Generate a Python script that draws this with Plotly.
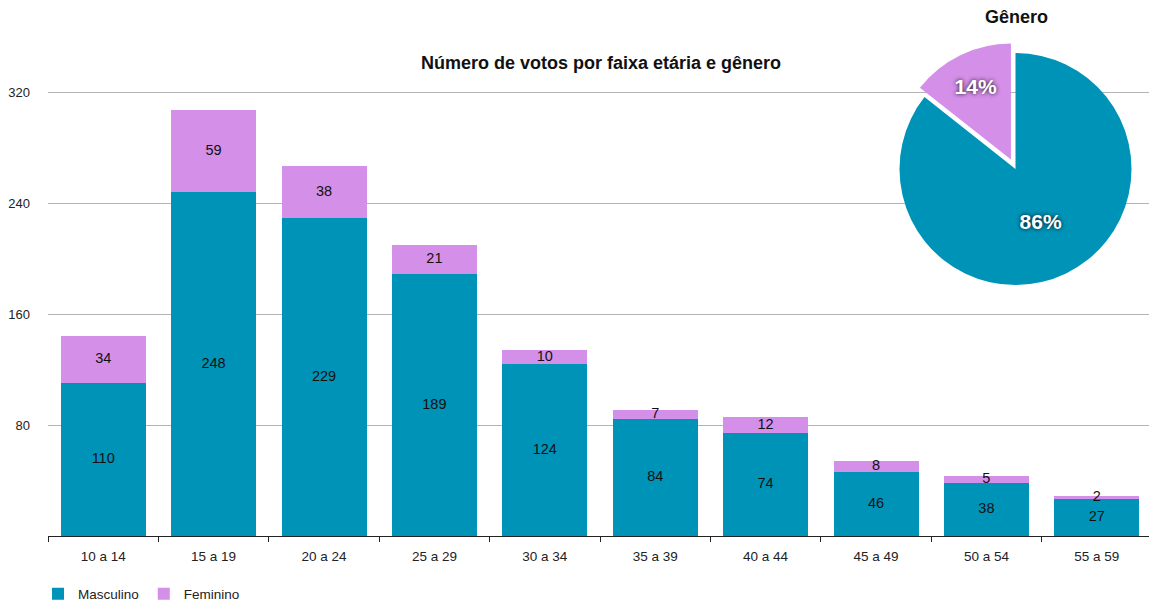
import plotly.graph_objects as go

categories = ["10 a 14", "15 a 19", "20 a 24", "25 a 29", "30 a 34",
              "35 a 39", "40 a 44", "45 a 49", "50 a 54", "55 a 59"]
masculino = [110, 248, 229, 189, 124, 84, 74, 46, 38, 27]
feminino = [34, 59, 38, 21, 10, 7, 12, 8, 5, 2]
y_ticks = [80, 160, 240, 320]

TEAL = "#0093b8"
LILAC = "#d48fe8"
FONT = "Liberation Sans, Arial, Helvetica, sans-serif"

# page body adds an 8px offset; layout is specified in screen pixels
OFF = 8
W, H = 1157, 606
ML, MR, MT, MB = 48 - OFF, 13, 0, 78
PW = W - ML - MR
PH = H - MT - MB
BAR_TOP_PX = 64  # screen y of top of bar plot area


def px_x(p):
    return (p - OFF - ML) / PW


def px_y(p):
    return (H - MB - (p - OFF)) / PH


fig = go.Figure()
fig.add_trace(go.Bar(x=categories, y=masculino, name="Masculino",
                     marker=dict(color=TEAL, line=dict(width=0)),
                     hoverinfo="skip"))
fig.add_trace(go.Bar(x=categories, y=feminino, name="Feminino",
                     marker=dict(color=LILAC, line=dict(width=0)),
                     hoverinfo="skip"))

# segment labels centred in each segment
fig.add_trace(go.Scatter(x=categories, y=[m / 2 for m in masculino],
                         mode="text", text=[str(v) for v in masculino],
                         textfont=dict(size=14.5, color="#111", family=FONT),
                         showlegend=False, hoverinfo="skip"))
fig.add_trace(go.Scatter(x=categories,
                         y=[m + f / 2 for m, f in zip(masculino, feminino)],
                         mode="text", text=[str(v) for v in feminino],
                         textfont=dict(size=14.5, color="#111", family=FONT),
                         showlegend=False, hoverinfo="skip"))

# pie of totals
tot_m = sum(masculino)
tot_f = sum(feminino)
cx, cy, r, pull = 1015.5, 169, 116, 0.09
half = r * (1 + pull)
fig.add_trace(go.Pie(
    labels=["Masculino", "Feminino"], values=[tot_m, tot_f],
    marker=dict(colors=[TEAL, LILAC], line=dict(width=0)),
    pull=[0, pull], sort=False, direction="clockwise", rotation=0,
    texttemplate="%{percent:.0%}", textposition="inside",
    insidetextorientation="horizontal",
    textfont=dict(size=21, color="white", family=FONT, weight="bold",
                  shadow="0px 0px 4px rgba(0,0,0,0.9)"),
    domain=dict(x=[px_x(cx - half), px_x(cx + half)],
                y=[px_y(cy + half), px_y(cy - half)]),
    showlegend=False, hoverinfo="skip"))

fig.update_layout(
    width=W, height=H,
    margin=dict(l=ML, r=MR, t=MT, b=MB, autoexpand=False),
    paper_bgcolor="white", plot_bgcolor="white",
    barmode="stack", bargap=0.23,
    font=dict(family=FONT, size=13, color="#222"),
    title=dict(text="<b>Número de votos por faixa etária e gênero</b>",
               x=(601 - OFF) / W, xanchor="center",
               y=1 - (63 - OFF) / H, yanchor="middle",
               font=dict(size=18, color="#111", family=FONT)),
    xaxis=dict(showline=True, linecolor="#222", linewidth=1,
               ticks="outside", tickson="boundaries", ticklen=5,
               tickcolor="#222", showgrid=False, automargin=False,
               ticklabelstandoff=8,
               tickfont=dict(size=13.5, color="#222")),
    yaxis=dict(range=[0, 340.2], tickvals=y_ticks,
               domain=[0, px_y(BAR_TOP_PX)], automargin=False,
               showgrid=True, gridcolor="#b3b3b3", gridwidth=1,
               zeroline=False, showline=False, ticks="",
               ticklabelstandoff=17,
               tickfont=dict(size=13, color="#222")),
    legend=dict(orientation="h", x=px_x(38), xanchor="left",
                y=px_y(594), yanchor="middle",
                font=dict(size=13.5, color="#222"), traceorder="normal"),
    annotations=[dict(text="<b>Gênero</b>", x=px_x(1016), y=px_y(17),
                      xref="paper", yref="paper", showarrow=False,
                      xanchor="center", yanchor="middle",
                      font=dict(size=18, color="#111", family=FONT))],
)

fig.write_html("out.html")
